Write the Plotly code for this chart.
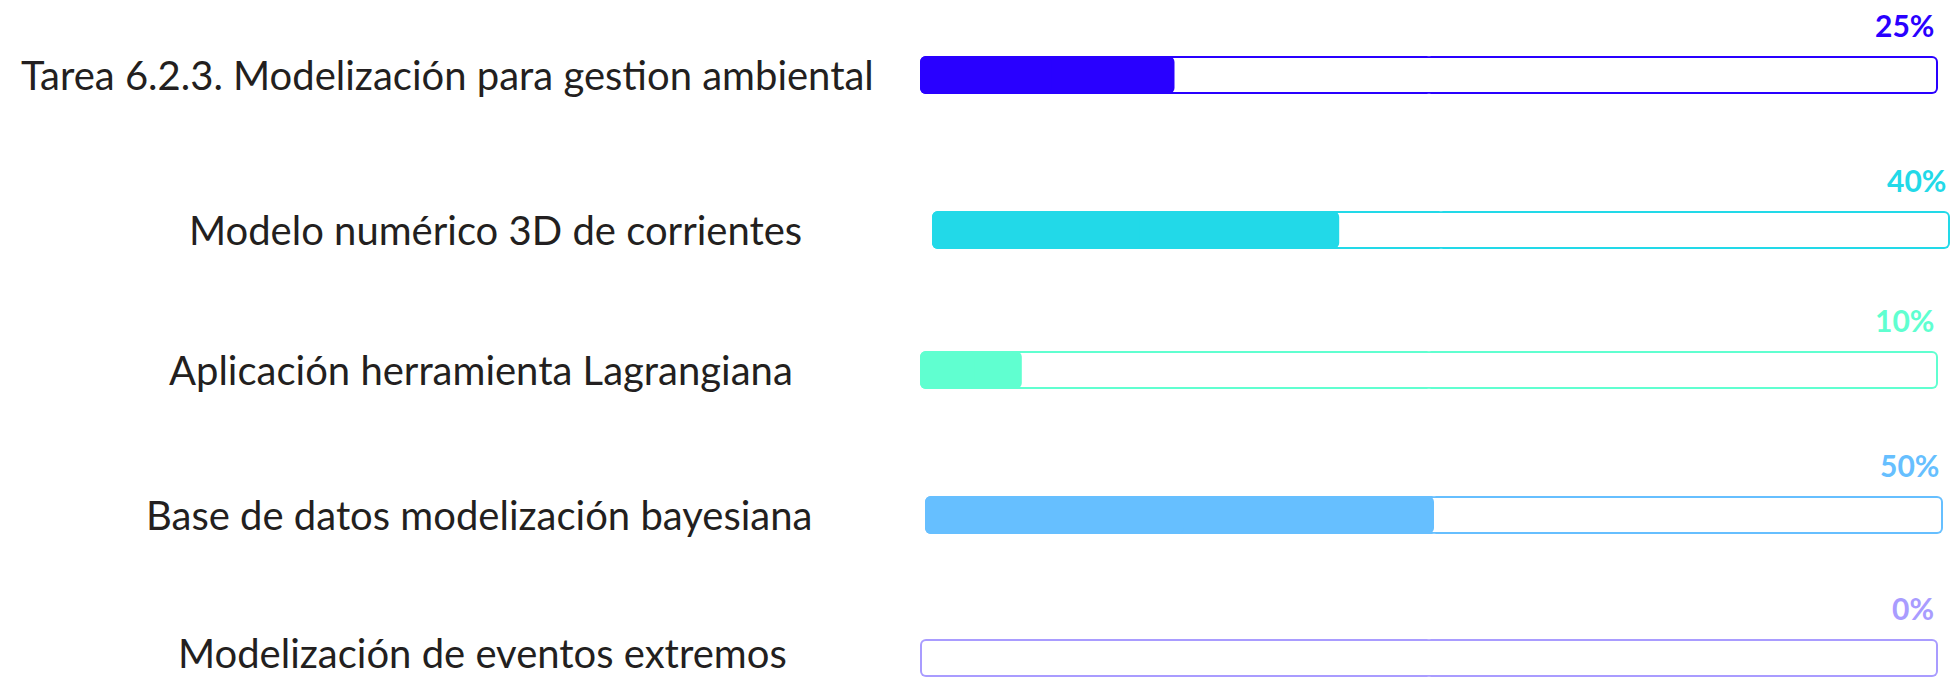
import plotly.graph_objects as go

# Task names, completion percentages and their colours
tasks = [
    "Tarea 6.2.3. Modelización para gestion ambiental",
    "Modelo numérico 3D de corrientes",
    "Aplicación herramienta Lagrangiana",
    "Base de datos modelización bayesiana",
    "Modelización de eventos extremos",
]
progress = [25, 40, 10, 50, 0]
colors = ["#2900FF", "#22D9E8", "#60FFD0", "#66BFFF", "#A99CFF"]

FULL_SCALE = 100  # a track represents 100 %

# Page geometry (pixels)
W, H = 1952, 677
BAR_H = 38
TRACK_W = 1018
track_left = [920, 932, 920, 925, 920]
row_center = [75, 230, 370, 515, 658]
label_center = [447, 495, 481, 479, 482]
PAD = 6
RADIUS = 6
OUTLINE = 2
OVERLAP_PX = 4

fig = go.Figure()
layout = dict(
    width=W, height=H,
    margin=dict(l=0, r=0, t=0, b=0),
    paper_bgcolor="white", plot_bgcolor="white",
    barmode="overlay",
    showlegend=False,
    annotations=[],
)


def rounded_bar(start, end, cat, xa, ya, color, thickness, radius, px, hover=None):
    """Bar from start to end rounded at both ends: plotly only rounds the tip
    of a bar, so it is built from two overlapping halves growing outwards."""
    if end <= start:
        return
    mid = (start + end) / 2
    half_overlap = min(OVERLAP_PX * px, (end - start) / 4)
    for base, tip in ((mid - half_overlap, end), (mid + half_overlap, start)):
        fig.add_trace(go.Bar(
            x=[tip - base], base=[base], y=[cat], orientation="h", width=thickness,
            xaxis=xa, yaxis=ya, cliponaxis=False,
            marker=dict(color=color, cornerradius=radius, line=dict(width=0)),
            hoverinfo="skip" if hover is None else None,
            hovertemplate=hover,
        ))


for i, (task, val, col) in enumerate(zip(tasks, progress, colors)):
    n = "" if i == 0 else str(i + 1)
    xa, ya = "x" + n, "y" + n

    # horizontal domain with a small pad so outlines are not cut
    x0 = track_left[i]
    x1 = x0 + TRACK_W
    d0 = max(0, x0 - PAD)
    d1 = min(W, x1 + PAD)
    units_per_px = FULL_SCALE / TRACK_W
    xr = [-(x0 - d0) * units_per_px, FULL_SCALE + (d1 - x1) * units_per_px]

    # vertical domain around the row centre
    c = row_center[i]
    top = max(0, c - 25)
    bot = min(H, c + 25)
    yr = [-(bot - c) / BAR_H, (c - top) / BAR_H]

    layout["xaxis" + n] = dict(domain=[d0 / W, d1 / W], range=xr, visible=False,
                               anchor=ya, fixedrange=True)
    layout["yaxis" + n] = dict(domain=[1 - bot / H, 1 - top / H], range=yr, visible=False,
                               anchor=xa, type="category", fixedrange=True)

    # track: coloured rounded bar with a white one inset by the outline width
    rounded_bar(0, FULL_SCALE, task, xa, ya, col, 1, RADIUS, units_per_px)
    inset = OUTLINE * units_per_px
    rounded_bar(inset, FULL_SCALE - inset, task, xa, ya, "white",
                (BAR_H - 2 * OUTLINE) / BAR_H, RADIUS - OUTLINE, units_per_px)
    # completed part
    rounded_bar(0, val, task, xa, ya, col, 1, RADIUS, units_per_px,
                hover=f"{task}: {val}%<extra></extra>")

    # task name on the left (the last one sits on the bottom edge)
    if i == len(tasks) - 1:
        name_pos = dict(yref="paper", y=0, yanchor="bottom", yshift=-2)
    else:
        name_pos = dict(yref=ya, y=0, yanchor="middle")
    layout["annotations"].append(dict(
        text=task, xref="paper", x=label_center[i] / W,
        xanchor="center", showarrow=False,
        font=dict(family="Lato", size=40, color="#231F20"),
        **name_pos,
    ))
    # percentage above the right end of the track
    layout["annotations"].append(dict(
        text=f"{val}%", xref=xa + " domain", yref=ya, x=(x1 - d0) / (d1 - d0), y=0,
        xanchor="right", yanchor="middle", xshift=-2, yshift=50, showarrow=False,
        font=dict(family="Lato", size=30, color=col, weight="bold"),
    ))

fig.update_layout(**layout)
fig.write_html("out.html")
